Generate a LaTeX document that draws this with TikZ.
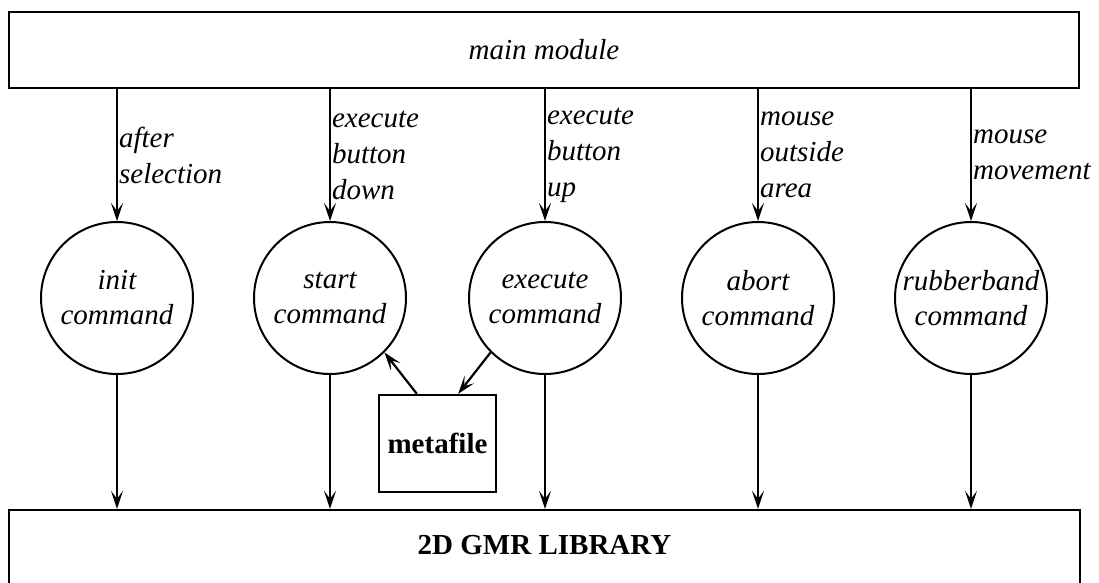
\documentclass[tikz,border=0pt]{standalone}
\usepackage{fontspec}
\setmainfont{Liberation Serif}
\usetikzlibrary{arrows.meta}
\begin{document}
\begin{tikzpicture}[x=1pt,y=-1pt,
  every node/.style={font=\fontsize{29}{35}\selectfont},
  bar/.style={draw, line width=2.8pt, inner sep=0pt},
  cmd/.style={draw, circle, line width=2pt, minimum size=152pt, inner sep=0pt,
    align=center, font=\fontsize{29}{35}\selectfont\itshape},
  filebox/.style={draw, line width=2.3pt, minimum width=117pt, minimum height=97pt,
    inner sep=0pt, font=\fontsize{29}{35}\selectfont\bfseries},
  arr/.style={line width=2.2pt, -{Stealth[length=18pt,width=12pt,inset=8pt]}},
  lbl/.style={anchor=west, inner sep=0pt, xshift=1pt, align=left,
    font=\fontsize{29}{36}\selectfont\itshape}]
\useasboundingbox (0,0) rectangle (1099,582);
\clip (0,0) rectangle (1099,582);

% top and bottom modules
\node[bar, minimum width=1070pt, minimum height=76pt, font=\fontsize{29}{35}\selectfont\itshape]
  (main) at (544,50) {main module};
\node[draw, line width=2.3pt, minimum width=1071pt, minimum height=100pt, inner sep=0pt]
  (lib) at (544.5,560) {};
\node[font=\fontsize{29}{35}\selectfont\bfseries] (libtext) at (544.5,545) {2D GMR LIBRARY};

% command processes
\node[cmd] (init)   at (117,298) {init\\command};
\node[cmd] (start)  at (330,298) {start\\command};
\node[cmd] (exec)   at (545,298) {execute\\command};
\node[cmd] (abort)  at (758,298) {abort\\command};
\node[cmd] (rubber) at (971,298) {rubberband\\command};

\node[filebox] (meta) at (437.5,443.5) {metafile};

% events from the main module
\draw[arr] (main.south -| init) -- (init.north)
  node[midway, lbl] {after\\selection};
\draw[arr] (main.south -| start) -- (start.north)
  node[midway, lbl] {execute\\button\\down};
\draw[arr] (main.south -| exec) -- (exec.north)
  node[midway, lbl] {execute\\button\\up};
\draw[arr] (main.south -| abort) -- (abort.north)
  node[midway, lbl] {mouse\\outside\\area};
\draw[arr] (main.south -| rubber) -- (rubber.north)
  node[midway, lbl] {mouse\\movement};

% calls into the library
\foreach \c in {init,start,exec,abort,rubber}
  \draw[arr] (\c.south) -- (\c.south |- lib.north);

% metafile traffic
\draw[arr] ([xshift=39pt]meta.north west) -- (start.-45);
\draw[arr] (exec.-135) -- ([xshift=-39pt]meta.north east);
\end{tikzpicture}
\end{document}
